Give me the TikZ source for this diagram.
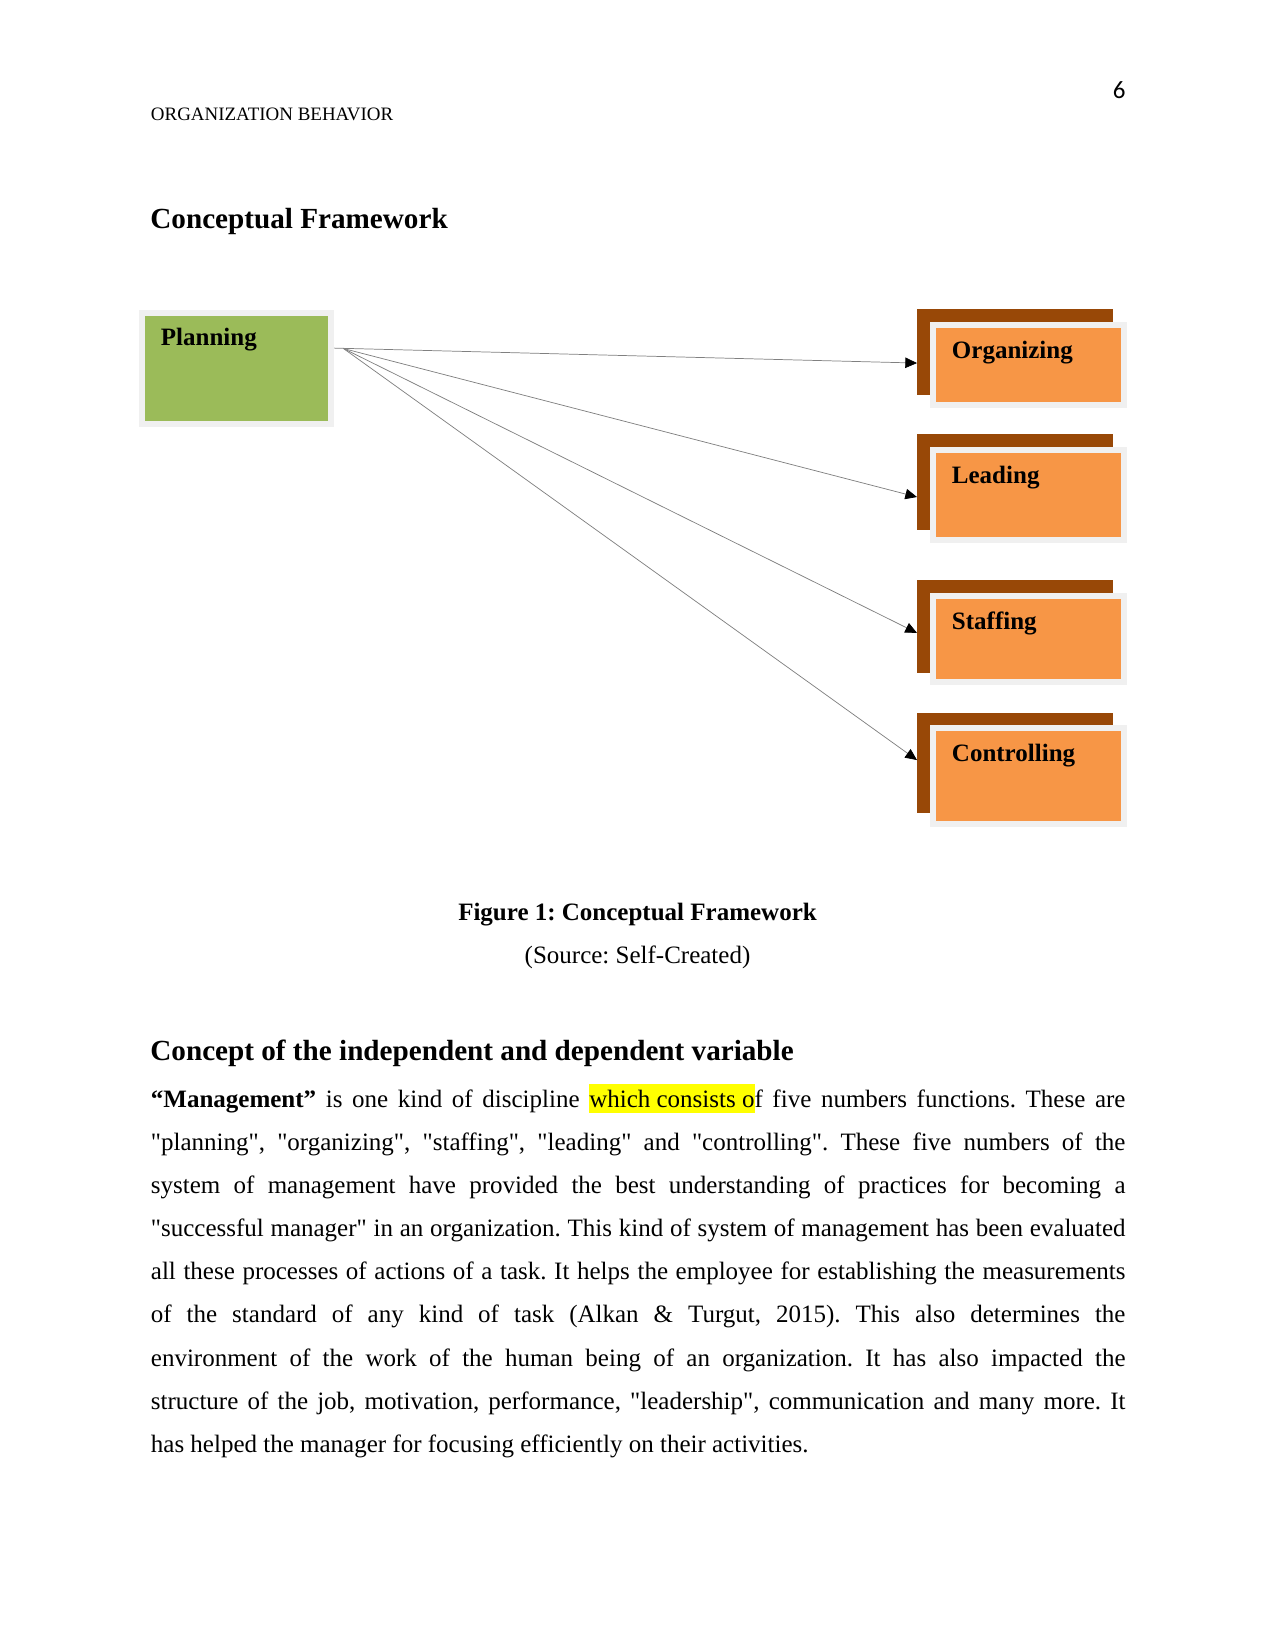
\documentclass[tikz,border=0pt]{standalone}
\usepackage{fontspec}
\setmainfont{Liberation Serif}[Ligatures=TeXOff]
\newfontfamily\numfont{Carlito}
\usetikzlibrary{arrows.meta}
\frenchspacing

\definecolor{plangreen}{HTML}{9BBB59}
\definecolor{funcorange}{HTML}{F79646}
\definecolor{funcbrown}{HTML}{984807}
\definecolor{framegray}{HTML}{F0F0F0}
\definecolor{hiyellow}{HTML}{FFFF00}

\newcommand{\hilite}[1]{{\setlength{\fboxsep}{0pt}\colorbox{hiyellow}{\rule[-2.9pt]{0pt}{13.9pt}#1}}}

\begin{document}
\begin{tikzpicture}[
        x=0.48pt, y=-0.48pt,
        >={Triangle[length=5.6pt,width=5pt,color=black]},
        font=\fontsize{12}{14}\selectfont,
        planbox/.style={
            rectangle,
            fill=plangreen,
            draw=framegray,
            line width=2.88pt,
            inner xsep=9.1pt,
            inner ysep=0pt,
            outer sep=0pt,
            text width=72.5pt,
            text height=15.4pt,
            text depth=37.9pt,
            align=left,
            anchor=north west,
            font=\fontsize{12}{14}\selectfont\bfseries
        },
        funcbox/.style={
            rectangle,
            fill=funcorange,
            draw=framegray,
            line width=2.88pt,
            inner xsep=9.1pt,
            inner ysep=0pt,
            outer sep=0pt,
            text width=73.4pt,
            text height=16.1pt,
            text depth=#1,
            align=left,
            anchor=north west,
            font=\fontsize{12}{14}\selectfont\bfseries
        },
        backbox/.style={
            rectangle,
            fill=funcbrown,
            inner sep=0pt,
            outer sep=0pt,
            minimum width=94.1pt,
            minimum height=#1,
            anchor=north west
        },
        arrow/.style={
            ->,
            line width=0.35pt,
            draw=black!50
        },
        pagetext/.style={
            inner sep=0pt,
            anchor=base west
        },
        heading/.style={
            inner sep=0pt,
            anchor=base west,
            font=\fontsize{14}{16}\selectfont\bfseries
        }
    ]

    \path[use as bounding box] (0,0) rectangle (1275,1651);

    % running head
    \node[pagetext, font=\fontsize{9.1}{11}\selectfont] (runhead) at (150.5,121) {ORGANIZATION BEHAVIOR};
    \node[pagetext, anchor=base east, font=\numfont\fontsize{12}{14}\selectfont] (pagenum) at (1126,99) {6};

    \node[heading] (title) at (150,228) {Conceptual Framework};

    % framework boxes
    \node[planbox] (plan) at (142,313) {Planning};

    \node[backbox=41.3pt] (orgback) at (917,309) {};
    \node[funcbox=22.3pt] (org) at (933,325) {Organizing};

    \node[backbox=46.1pt] (leadback) at (917,434) {};
    \node[funcbox=27.1pt] (lead) at (933,450) {Leading};

    \node[backbox=44.6pt] (staffback) at (917,580) {};
    \node[funcbox=25.2pt] (staff) at (933,596) {Staffing};

    \node[backbox=48pt] (ctrlback) at (917,713) {};
    \node[funcbox=30pt] (ctrl) at (933,728) {Controlling};

    \draw[arrow] ([xshift=1.5pt,yshift=9.8pt]plan.east) -- ([yshift=-5.3pt]orgback.west);
    \draw[arrow] ([xshift=6pt,yshift=9.6pt]plan.east) -- ([yshift=-7.2pt]leadback.west);
    \draw[arrow] ([xshift=6pt,yshift=9.6pt]plan.east) -- ([yshift=-3.1pt]staffback.west);
    \draw[arrow] ([xshift=6pt,yshift=9.6pt]plan.east) -- ([yshift=1.4pt]ctrlback.west);

    % caption
    \node[pagetext, anchor=base, font=\fontsize{12}{14}\selectfont\bfseries] (caption) at (637.5,920) {Figure 1: Conceptual Framework};
    \node[pagetext, anchor=base] (source) at (637.5,963) {(Source: Self-Created)};

    \node[heading] (subtitle) at (150,1060) {Concept of the independent and dependent variable};

    % body paragraph, one node per line
    \node[pagetext] (line1) at (150.5,1107) {\makebox[467.8pt][s]{{\bfseries “Management”} is one kind of discipline \hilite{which consists o}f five numbers functions. These are}};
    \node[pagetext] (line2) at (150.5,1150.2) {\makebox[467.8pt][s]{"planning", "organizing", "staffing", "leading" and "controlling". These five numbers of the}};
    \node[pagetext] (line3) at (150.5,1193.3) {\makebox[467.8pt][s]{system of management have provided the best understanding of practices for becoming a}};
    \node[pagetext] (line4) at (150.5,1236.5) {\makebox[467.8pt][s]{"successful manager" in an organization. This kind of system of management has been evaluated}};
    \node[pagetext] (line5) at (150.5,1279.7) {\makebox[467.8pt][s]{all these processes of actions of a task. It helps the employee for establishing the measurements}};
    \node[pagetext] (line6) at (150.5,1322.9) {\makebox[467.8pt][s]{of the standard of any kind of task (Alkan \& Turgut, 2015). This also determines the}};
    \node[pagetext] (line7) at (150.5,1366) {\makebox[467.8pt][s]{environment of the work of the human being of an organization. It has also impacted the}};
    \node[pagetext] (line8) at (150.5,1409.2) {\makebox[467.8pt][s]{structure of the job, motivation, performance, "leadership", communication and many more. It}};
    \node[pagetext] (line9) at (150.5,1452.4) {has helped the manager for focusing efficiently on their activities.};

\end{tikzpicture}
\end{document}
